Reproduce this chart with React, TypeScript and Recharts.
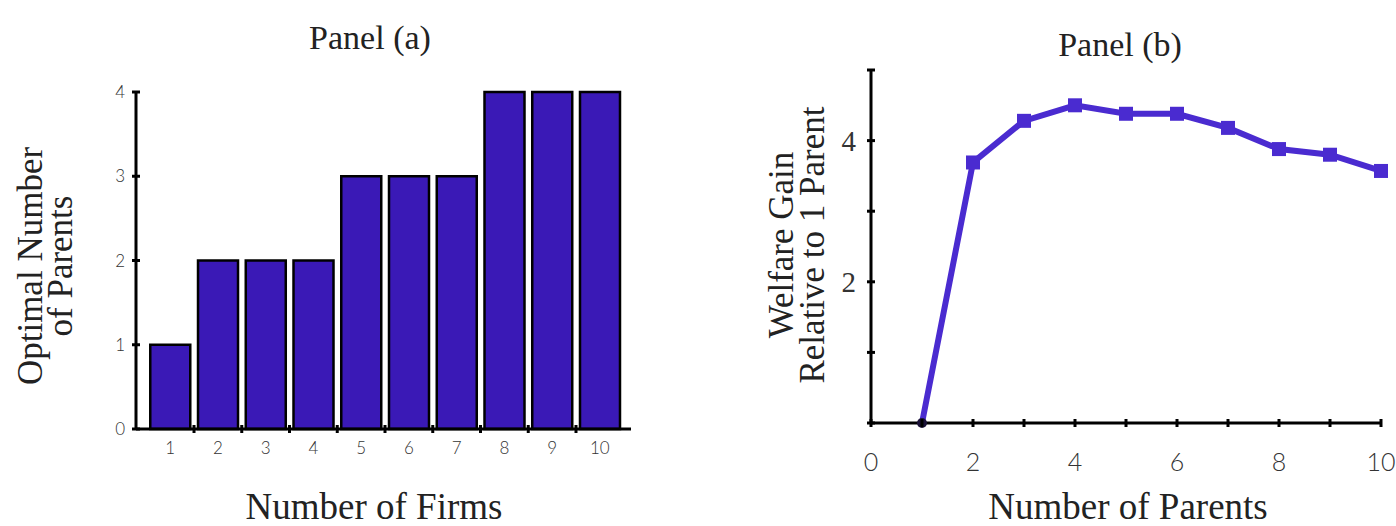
import { BarChart, Bar, XAxis, YAxis, LineChart, Line } from 'recharts'

// Panel (a): optimal number of parents by number of firms
const firms = [1, 2, 3, 4, 5, 6, 7, 8, 9, 10]
const optimalParents = [1, 2, 2, 2, 3, 3, 3, 4, 4, 4]
const firmBoundaries = [1.5, 2.5, 3.5, 4.5, 5.5, 6.5, 7.5, 8.5, 9.5]
const parentTicksA = [0, 1, 2, 3, 4]

// Panel (b): welfare gain relative to 1 parent
const parents = [1, 2, 3, 4, 5, 6, 7, 8, 9, 10]
const welfareGain = [0, 3.69, 4.28, 4.5, 4.38, 4.38, 4.18, 3.88, 3.8, 3.57]
const parentTicksB = [0, 1, 2, 3, 4, 5, 6, 7, 8, 9, 10]
const parentLabelsB = [0, 2, 4, 6, 8, 10]
const welfareTicks = [0, 1, 2, 3, 4, 5]
const welfareLabels = [2, 4]

const barData = firms.map((f, i) => ({ firms: f, parents: optimalParents[i] }))
const lineData = parents.map((p, i) => ({ parents: p, gain: welfareGain[i] }))

const serif = '"Liberation Serif", "Times New Roman", serif'
const sans = 'Lato, "Open Sans", sans-serif'
const barBlue = '#3a19b6'
const lineBlue = '#4a2bd0'

const FirmTick = (props: any) => {
  const { x, y, payload } = props
  const v = payload.value
  if (!Number.isInteger(v)) {
    return <line x1={x} x2={x} y1={y - 4} y2={y + 4} stroke="#000" strokeWidth={3} />
  }
  return (
    <text x={x} y={y + 25} textAnchor="middle" fontSize={17} fontFamily={sans} fontWeight={300} fill="#333">
      {v}
    </text>
  )
}

const CountTickA = (props: any) => {
  const { x, y, payload } = props
  return (
    <g>
      <line x1={x - 4} x2={x + 4} y1={y} y2={y} stroke="#000" strokeWidth={3} />
      <text x={x - 11} y={y + 6} textAnchor="end" fontSize={17} fontFamily={sans} fontWeight={300} fill="#333">
        {payload.value}
      </text>
    </g>
  )
}

const ParentTickB = (props: any) => {
  const { x, y, payload } = props
  const v = payload.value
  return (
    <g>
      <line x1={x} x2={x} y1={y - 4} y2={y + 4} stroke="#000" strokeWidth={3} />
      {parentLabelsB.includes(v) && (
        <text x={x} y={y + 48} textAnchor="middle" fontSize={25} fontFamily={sans} fontWeight={300} fill="#333">
          {v}
        </text>
      )}
    </g>
  )
}

const GainTick = (props: any) => {
  const { x, y, payload } = props
  const v = payload.value
  return (
    <g>
      <line x1={x - 4} x2={x + 4} y1={y} y2={y} stroke="#000" strokeWidth={3} />
      {welfareLabels.includes(v) && (
        <text x={x - 15} y={y + 10} textAnchor="end" fontSize={29} fontFamily={serif} fill="#333">
          {v}
        </text>
      )}
    </g>
  )
}

const SquareDot = (props: any) => {
  const { cx, cy, value, index } = props
  if (value === 0) {
    return <circle key={index} cx={cx} cy={cy} r={5} fill="#1b1238" />
  }
  return <rect key={index} x={cx - 7} y={cy - 7} width={14} height={14} fill={lineBlue} />
}

const abs = (style: any): any => ({ position: 'absolute', whiteSpace: 'nowrap', color: '#222', fontFamily: serif, ...style })

export default function App() {
  return (
    <div style={{ position: 'absolute', left: 0, top: 0, width: 1396, height: 526, background: '#fff', overflow: 'hidden' }}>
      <div style={{ position: 'absolute', left: 0, top: 0 }}>
        <BarChart width={700} height={526} data={barData} margin={{ top: 92, right: 69, bottom: 67, left: 106 }}>
          <XAxis
            dataKey="firms"
            type="number"
            domain={[0.285, 10.652]}
            allowDataOverflow
            ticks={[...firms, ...firmBoundaries].sort((a, b) => a - b)}
            interval={0}
            height={30}
            tickSize={0}
            tickMargin={0}
            tickLine={false}
            axisLine={{ stroke: '#000', strokeWidth: 3 }}
            tick={<FirmTick />}
          />
          <YAxis
            type="number"
            domain={[0, 4]}
            ticks={parentTicksA}
            interval={0}
            width={30}
            tickSize={0}
            tickMargin={0}
            tickLine={false}
            axisLine={{ stroke: '#000', strokeWidth: 3 }}
            tick={<CountTickA />}
          />
          <Bar dataKey="parents" fill={barBlue} stroke="#000" strokeWidth={2.5} barSize={40} isAnimationActive={false} />
        </BarChart>
      </div>

      <div style={{ position: 'absolute', left: 700, top: 0 }}>
        <LineChart width={696} height={526} data={lineData} margin={{ top: 70, right: 15, bottom: 73, left: 141 }}>
          <XAxis
            dataKey="parents"
            type="number"
            domain={[0, 10]}
            ticks={parentTicksB}
            interval={0}
            height={30}
            tickSize={0}
            tickMargin={0}
            tickLine={false}
            axisLine={{ stroke: '#000', strokeWidth: 3 }}
            tick={<ParentTickB />}
          />
          <YAxis
            type="number"
            domain={[0, 5]}
            ticks={welfareTicks}
            interval={0}
            width={30}
            tickSize={0}
            tickMargin={0}
            tickLine={false}
            axisLine={{ stroke: '#000', strokeWidth: 3 }}
            tick={<GainTick />}
          />
          <Line
            dataKey="gain"
            type="linear"
            stroke={lineBlue}
            strokeWidth={6}
            dot={SquareDot}
            activeDot={false}
            isAnimationActive={false}
          />
        </LineChart>
      </div>

      <div style={abs({ left: 370, top: 38, fontSize: 34, transform: 'translate(-50%, -50%)' })}>Panel (a)</div>
      <div style={abs({ left: 1120, top: 45, fontSize: 34, transform: 'translate(-50%, -50%)' })}>Panel (b)</div>
      <div style={abs({ left: 374, top: 506, fontSize: 37, transform: 'translate(-50%, -50%)' })}>Number of Firms</div>
      <div style={abs({ left: 1128, top: 506, fontSize: 37, transform: 'translate(-50%, -50%)' })}>Number of Parents</div>
      <div
        style={abs({
          left: 46,
          top: 266,
          fontSize: 35,
          lineHeight: '30px',
          textAlign: 'center',
          transform: 'translate(-50%, -50%) rotate(-90deg)',
        })}
      >
        Optimal Number
        <br />
        of Parents
      </div>
      <div
        style={abs({
          left: 797,
          top: 245,
          fontSize: 35,
          lineHeight: '31px',
          textAlign: 'center',
          transform: 'translate(-50%, -50%) rotate(-90deg)',
        })}
      >
        Welfare Gain
        <br />
        Relative to 1 Parent
      </div>
    </div>
  )
}
